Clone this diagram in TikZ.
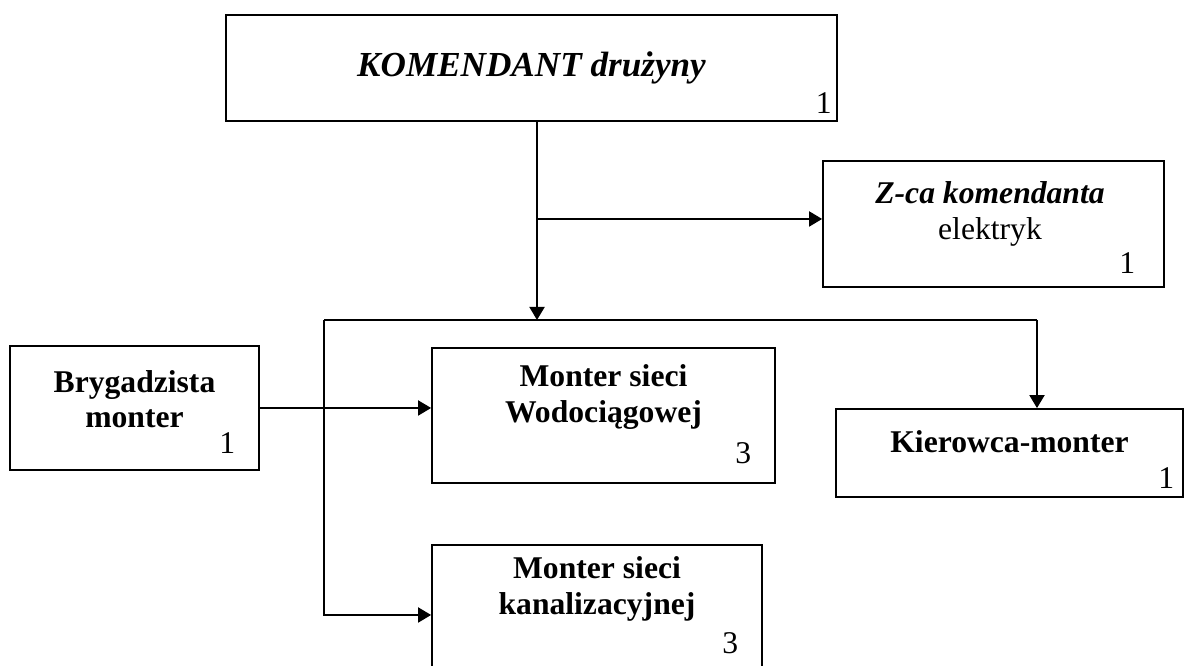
\documentclass[tikz,border=0pt]{standalone}
\usepackage{fontspec}
\setmainfont{Liberation Serif}
\usepackage{tikz}
\usetikzlibrary{positioning, arrows.meta, calc}

\begin{document}
\begin{tikzpicture}[
    box/.style={rectangle, draw=black, line width=1pt, inner sep=0pt},
    lbl/.style={align=center, font=\fontsize{18}{20}\selectfont\bfseries},
    num/.style={font=\fontsize{18}{20}\selectfont, inner sep=1pt, anchor=south east},
    arrow/.style={-{Triangle[length=2.6mm, width=3mm]}, line width=1.1pt},
    line/.style={line width=1.1pt}
]
    \useasboundingbox (0,0) rectangle (23.78,13.32);

    % Komendant
    \node[box, minimum width=12.22cm, minimum height=2.12cm,
          font=\fontsize{20}{22}\selectfont\bfseries\itshape] (kom) at (10.63, 11.96) {KOMENDANT drużyny};
    \node[num] (komn) at ($(kom.south east)+(-0.08,0.12)$) {1};

    % Zastepca
    \node[box, minimum width=6.82cm, minimum height=2.52cm] (zca) at (19.87, 8.84) {};
    \node[lbl, font=\fontsize{18}{20}\selectfont] (zcat) at ($(zca.center)+(-0.07,0.2)$) {\textbf{\textit{Z-ca komendanta}}\\elektryk};
    \node[num] (zcan) at ($(zca.south east)+(-0.55,0.25)$) {1};

    % Brygadzista
    \node[box, minimum width=4.98cm, minimum height=2.48cm] (bryg) at (2.69, 5.16) {};
    \node[lbl] (brygt) at ($(bryg.center)+(0,0.18)$) {Brygadzista\\monter};
    \node[num] (brygn) at ($(bryg.south east)+(-0.45,0.3)$) {1};

    % Monter wodociagowy
    \node[box, minimum width=6.86cm, minimum height=2.70cm] (wod) at (12.07, 5.01) {};
    \node[lbl] (wodt) at ($(wod.center)+(0,0.37)$) {Monter sieci\\Wodociągowej};
    \node[num] (wodn) at ($(wod.south east)+(-0.45,0.35)$) {3};

    % Kierowca
    \node[box, minimum width=6.94cm, minimum height=1.76cm] (kier) at (20.19, 4.26) {};
    \node[lbl] (kiert) at ($(kier.center)+(0,0.22)$) {Kierowca-monter};
    \node[num] (kiern) at ($(kier.south east)+(-0.15,0.15)$) {1};

    % Monter kanalizacyjny
    \node[box, minimum width=6.6cm, minimum height=2.46cm] (kan) at (11.94, 1.19) {};
    \node[lbl] (kant) at ($(kan.center)+(0,0.35)$) {Monter sieci\\kanalizacyjnej};
    \node[num] (kann) at ($(kan.south east)+(-0.45,0.25)$) {3};

    % Trunk and bus
    \coordinate (trunk) at (10.74, 6.92);
    \coordinate (fork) at (10.74, 8.94);
    \coordinate (busL) at (6.48, 6.92);
    \coordinate (busR) at (20.74, 6.92);

    \draw[arrow] (kom.south -| trunk) -- (trunk);
    \draw[arrow] (fork) -- (fork -| zca.west);
    \draw[line] (busL) -- (busR);
    \draw[arrow] (busR) -- (busR |- kier.north);
    \draw[arrow] (busL) |- ([yshift=-0.17cm]kan.west);
    \draw[arrow] (bryg.east) -- (bryg.east -| wod.west);

\end{tikzpicture}
\end{document}
